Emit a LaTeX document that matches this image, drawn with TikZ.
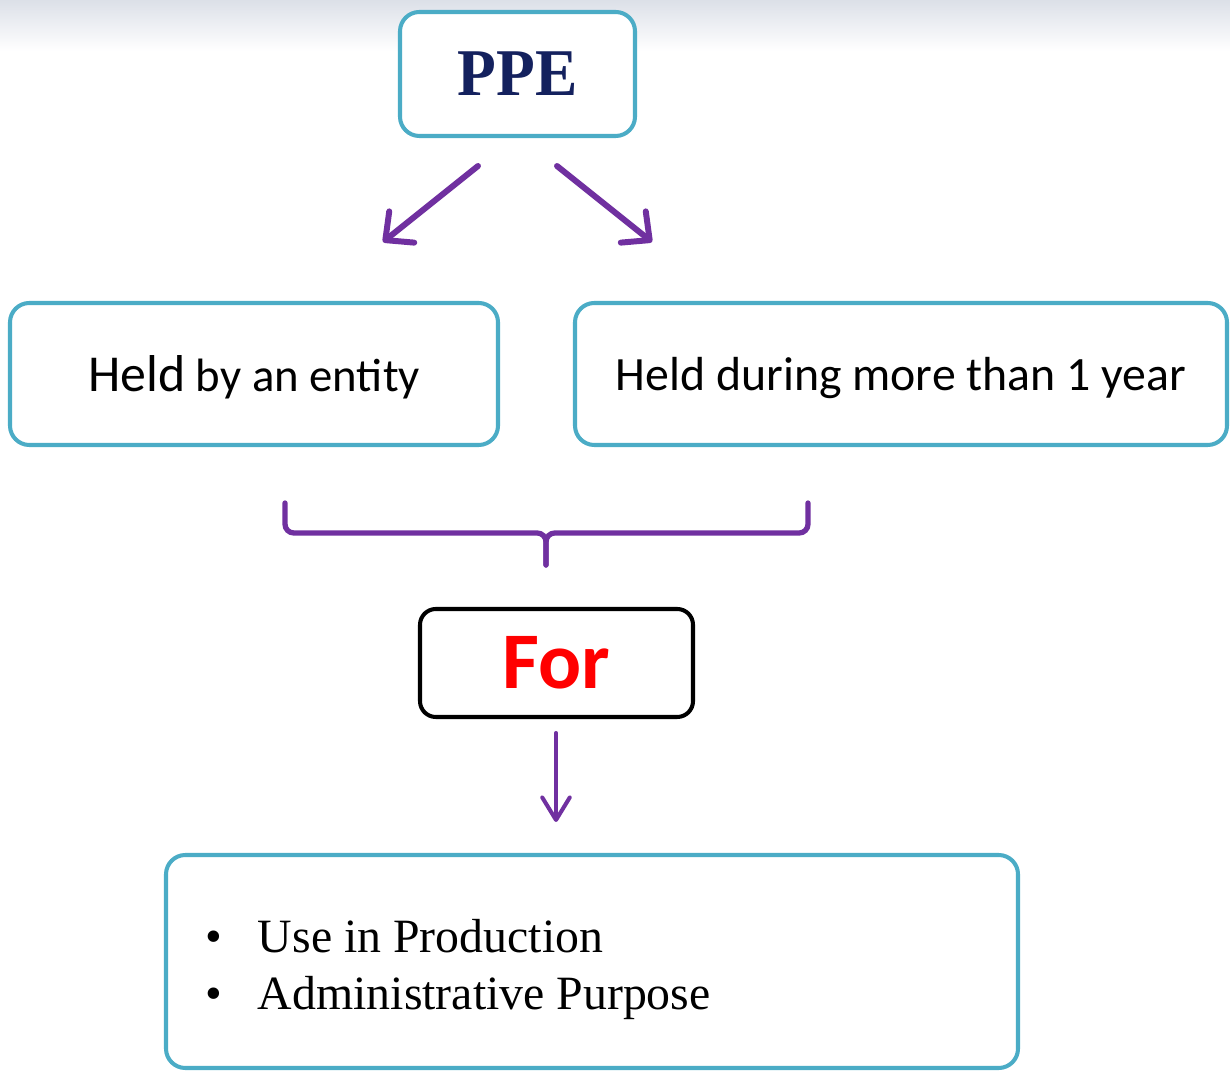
\documentclass[tikz,border=0pt]{standalone}
\usepackage{fontspec}
\setmainfont{Liberation Serif}
\newfontfamily\calibri{Carlito}
\newfontfamily\ppefont[FakeStretch=0.95]{Liberation Serif}
\usepackage{xcolor}
\usetikzlibrary{arrows.meta, positioning}
\definecolor{pTeal}{HTML}{4BACC6}
\definecolor{pPurple}{HTML}{7030A0}
\definecolor{pNavy}{HTML}{14215E}
\definecolor{pRed}{HTML}{FF0000}
\definecolor{pBand}{HTML}{DCE0E8}

\begin{document}
\begin{tikzpicture}[
  box/.style={rectangle, rounded corners=11pt, draw=pTeal, fill=white,
              line width=2.3pt, inner sep=0pt, align=center},
  forbox/.style={rectangle, rounded corners=9pt, draw=black, fill=white,
                 line width=2.3pt, inner sep=0pt, align=center},
  arr/.style={draw=pPurple, line width=3.4pt, line cap=round,
              -{Straight Barb[length=0.42cm, width=0.8cm, round]}},
  thinarr/.style={draw=pPurple, line width=2.3pt, line cap=round,
                  -{Straight Barb[length=0.45cm, width=0.55cm, round]}}
]
\useasboundingbox (0,0) rectangle (24.6,21.62);
\shade[top color=pBand, bottom color=white] (0,21.62) rectangle (24.6,20.6);

% top box
\node[box, minimum width=4.7cm, minimum height=2.48cm,
      font=\ppefont\bfseries\fontsize{38}{40}\selectfont, text=pNavy]
  (ppe) at (10.35,20.14) {PPE};

% the two conditions
\node[box, minimum width=9.76cm, minimum height=2.84cm, text depth=0pt,
      font=\calibri\fontsize{26.6}{32}\selectfont] (held) at (5.08,14.14)
  {{\fontsize{29.5}{32}\selectfont Held} by an entity};
\node[box, minimum width=13.04cm, minimum height=2.84cm, text depth=0pt,
      font=\calibri\fontsize{27.2}{32}\selectfont] (year) at (18.02,14.14)
  {Held during more than 1 year};

\coordinate (ppeL) at (9.56,18.3);
\coordinate (heldT) at (7.66,16.78);
\coordinate (ppeR) at (11.14,18.3);
\coordinate (yearT) at (13.04,16.78);
\draw[arr] (ppeL) -- (heldT);
\draw[arr] (ppeR) -- (yearT);

% brace joining both
\coordinate (braceL) at (5.7,11.56);
\coordinate (braceR) at (16.16,11.56);
\coordinate (braceM) at (10.92,10.96);
\coordinate (braceTip) at (10.92,10.32);
\draw[pPurple, line width=3pt, line cap=round, rounded corners=5pt]
  (braceL) -- (5.7,10.96) -- (braceM) -- (braceTip);
\draw[pPurple, line width=3pt, line cap=round, rounded corners=5pt]
  (braceR) -- (16.16,10.96) -- (braceM) -- (braceTip);

\node[forbox, minimum width=5.46cm, minimum height=2.16cm,
      font=\calibri\bfseries\fontsize{45.7}{50}\selectfont, text=pRed]
  (for) at (11.13,8.36) {For};

\node[box, minimum width=17.04cm, minimum height=4.26cm, text width=15.48cm,
      align=left, font=\fontsize{27.2}{32.9}\selectfont] (uses) at (11.84,2.39)
  {\spaceskip=0pt\xspaceskip=0pt\rule{0pt}{28pt}%
   \makebox[1.06cm][l]{\textbullet}Use in Production\\
   \makebox[1.06cm][l]{\textbullet}Administrative Purpose};

\coordinate (forB) at (11.12,6.96);
\coordinate (usesT) at (11.12,5.18);
\draw[thinarr] (forB) -- (usesT);
\end{tikzpicture}
\end{document}
